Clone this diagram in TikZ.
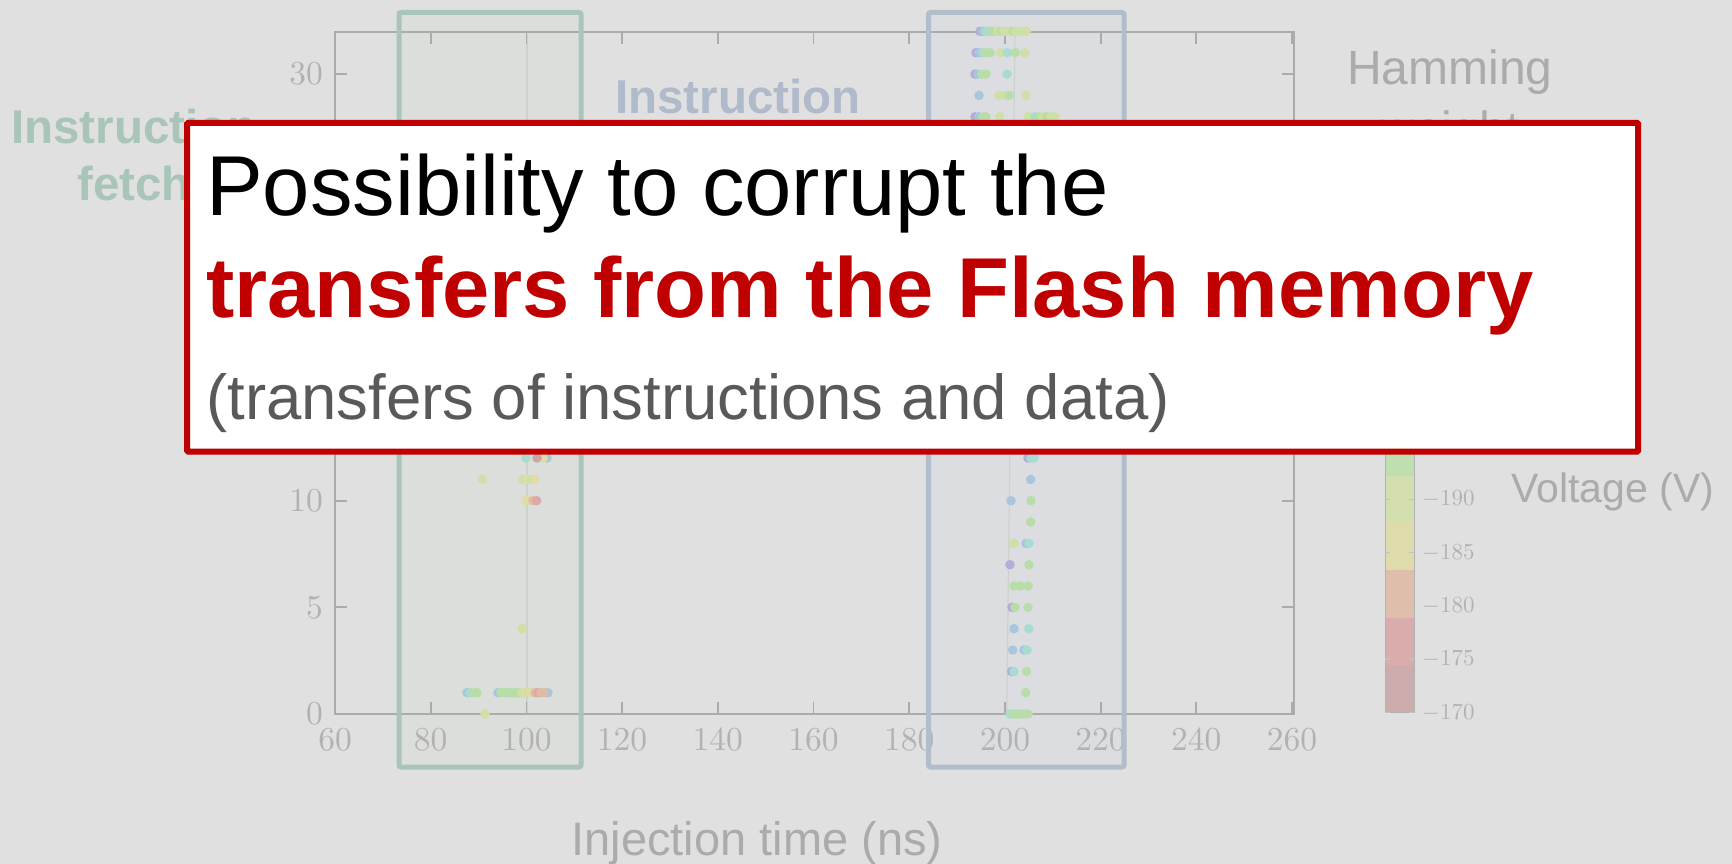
\documentclass[tikz,border=0pt]{standalone}
\usepackage{fix-cm}
\usepackage{fontspec}
\newfontfamily\arial{Liberation Sans}
\newfontfamily\tickfont{lmroman10-regular}[Extension=.otf]

\definecolor{bg}{HTML}{E0E0E0}
\definecolor{axisgray}{HTML}{ABABAB}
\definecolor{ticktext}{HTML}{B2B2B2}
\definecolor{labgray}{HTML}{ABABAB}
\definecolor{fetchline}{HTML}{A9C5B9}
\definecolor{fetchfill}{HTML}{DCDEDB}
\definecolor{fetchtxt}{HTML}{A8C5B8}
\definecolor{decline}{HTML}{B2BCCB}
\definecolor{decfill}{HTML}{DCDDE0}
\definecolor{dectxt}{HTML}{AFBACB}
\definecolor{gridgray}{HTML}{CFD1CF}
\definecolor{alertred}{HTML}{C00000}
\definecolor{subgray}{HTML}{595959}
% faded scatter colours
\definecolor{dPur}{HTML}{B2AED6}
\definecolor{dBlu}{HTML}{A9C6DC}
\definecolor{dCya}{HTML}{A8DCD2}
\definecolor{dGrn}{HTML}{B9DDAA}
\definecolor{dYg}{HTML}{CFE0A6}
\definecolor{dYel}{HTML}{E0DCA6}
\definecolor{dOra}{HTML}{E0BBA6}
\definecolor{dRed}{HTML}{DCA8A8}
\definecolor{dBrn}{HTML}{C9A6A6}
% colour bar bands
\definecolor{cbA}{HTML}{BFDFB0}
\definecolor{cbB}{HTML}{D3DFAE}
\definecolor{cbC}{HTML}{DFDCAC}
\definecolor{cbD}{HTML}{DFBFAC}
\definecolor{cbE}{HTML}{DBACAC}
\definecolor{cbF}{HTML}{CCACAC}

\begin{document}
\begin{tikzpicture}[x=1pt,y=-1pt,
  axisline/.style={draw=axisgray,line width=1.8pt},
  ticklab/.style={inner sep=0pt,text=ticktext,font=\tickfont\fontsize{33.5}{40}\selectfont},
  cblab/.style={inner sep=0pt,text=ticktext,font=\tickfont\fontsize{23}{28}\selectfont},
  cbtick/.style={draw=ticktext!80,line width=1.2pt},
  fetchbox/.style={draw=fetchline,line width=5pt,rounded corners=2pt},
  decbox/.style={draw=decline,line width=5pt,rounded corners=2pt},
  faintline/.style={draw=gridgray,line width=1.2pt},
  graylab/.style={inner sep=0pt,text=labgray},
  alertbox/.style={draw=alertred,fill=white,line width=6pt,rounded corners=1pt},
  mainline/.style={inner sep=0pt,anchor=base west},
]
\useasboundingbox (0,0) rectangle (1732,864);
\fill[bg] (0,0) rectangle (1732,864);

% shaded time windows
\fill[fetchfill] (399,12.5) rectangle (581,767);
\fill[decfill] (928.5,12.5) rectangle (1124,767);

% faint guide lines
\draw[faintline] (527,32) -- (527,714);
\draw[faintline] (1015,32) -- (1006.7,714);

% axes frame and ticks
\draw[axisline] (335,31.7) rectangle (1294,714);
\foreach \t in {60,80,...,260} {
  \pgfmathsetmacro\px{335+(\t-60)*4.785}
  \draw[axisline] (\px,714) -- ++(0,-12);
  \draw[axisline] (\px,31.7) -- ++(0,12);
  \node[ticklab,anchor=base] (xl\t) at (\px,750) {\t};
}
\foreach \v in {0,5,...,30} {
  \pgfmathsetmacro\py{714-21.33*\v}
  \draw[axisline] (335,\py) -- ++(12,0);
  \draw[axisline] (1294,\py) -- ++(-12,0);
  \node[ticklab,anchor=east] (yl\v) at (323,\py) {\v};
}

% scatter points: fetch window
\foreach \x/\y/\c in {
  526/458/dCya, 547/458/dBlu, 543/458/dYel, 537/458/dBrn,
  482.3/479.4/dYg, 523/479.4/dYg, 527/479.4/dYel, 531/479.4/dYg, 535/479.4/dYel,
  526/500.7/dYel, 530/500.7/dYel, 533/500.7/dOra, 536.7/500.7/dRed,
  522.3/628.7/dYg,
  467/692.7/dBlu, 470/692.7/dCya, 474/692.7/dGrn, 477/692.7/dGrn,
  548/692.7/dBlu, 498/692.7/dBlu, 501/692.7/dGrn, 504/692.7/dGrn, 507/692.7/dGrn,
  510/692.7/dGrn, 513/692.7/dGrn, 516/692.7/dGrn, 519/692.7/dGrn, 522/692.7/dYg,
  525/692.7/dYel, 528/692.7/dYg, 531/692.7/dYel, 535/692.7/dOra, 538/692.7/dRed,
  541/692.7/dOra, 544/692.7/dOra,
  485/714/dYg}
  \fill[\c] (\x,\y) circle[radius=4.8];

% scatter points: second window
\foreach \x/\y/\c in {
  980/31.4/dPur, 983/31.4/dBlu, 986/31.4/dCya, 989/31.4/dCya, 992/31.4/dGrn,
  995/31.4/dGrn, 998/31.4/dYg, 1001/31.4/dGrn, 1004/31.4/dYg, 1007/31.4/dYg,
  1010/31.4/dYg, 1013/31.4/dGrn, 1016/31.4/dYg, 1019/31.4/dYg, 1022/31.4/dYg, 1026/31.4/dYg,
  976/52.7/dPur, 979/52.7/dBlu, 983/52.7/dCya, 986/52.7/dGrn, 990/52.7/dGrn,
  1000.7/52.7/dYg, 1007.3/52.7/dCya, 1015.3/52.7/dGrn, 1024.7/52.7/dYg,
  975/74.1/dPur, 978/74.1/dBlu, 982/74.1/dGrn, 986/74.1/dGrn, 1007/74.1/dCya,
  979/95.4/dBlu, 999/95.4/dYg, 1005/95.4/dYg, 1009/95.4/dGrn, 1026/95.4/dYg,
  975/116.8/dPur, 979/116.8/dBlu, 983/116.8/dGrn, 986/116.8/dGrn, 999.7/116.8/dYg,
  1028/116.8/dYg, 1035/116.8/dCya, 1039/116.8/dGrn, 1043/116.8/dYg, 1047/116.8/dGrn,
  1051/116.8/dYg, 1055/116.8/dYg,
  1028/458/dPur, 1031/458/dCya, 1034/458/dCya,
  1030.7/479.4/dBlu,
  1011/500.7/dBlu, 1031/500.7/dGrn,
  1030.7/522/dGrn,
  1014/543.4/dYg, 1026/543.4/dBlu, 1029/543.4/dCya,
  1010/564.7/dPur, 1029/564.7/dGrn,
  1014/586/dGrn, 1020.7/586/dGrn, 1028.3/586/dGrn,
  1012/607.4/dPur, 1015/607.4/dGrn, 1028/607.4/dGrn,
  1014/628.7/dBlu, 1028.7/628.7/dCya,
  1012.7/650/dBlu, 1024/650/dBlu, 1027/650/dCya,
  1011.7/671.4/dPur, 1014/671.4/dCya, 1026.7/671.4/dGrn,
  1025.7/692.7/dGrn,
  1010/714/dCya, 1013/714/dGrn, 1016/714/dGrn, 1019/714/dGrn, 1022/714/dGrn,
  1025/714/dGrn, 1028/714/dGrn}
  \fill[\c] (\x,\y) circle[radius=4.8];

% colour bar
\fill[cbA] (1385,300) rectangle (1414,476);
\fill[cbB] (1385,476) rectangle (1414,523);
\fill[cbC] (1385,523) rectangle (1414,570);
\fill[cbD] (1385,570) rectangle (1414,618);
\fill[cbE] (1385,618) rectangle (1414,665);
\fill[cbF] (1385,665) rectangle (1414,712);
\draw[draw=ticktext,line width=1pt] (1385,300) rectangle (1414,712);
\foreach \k/\lab in {0/170,1/175,2/180,3/185,4/190} {
  \pgfmathsetmacro\cy{712.3-53.3*\k}
  \draw[cbtick] (1385,\cy) -- ++(5,0);
  \draw[cbtick] (1414,\cy) -- ++(-5,0);
  \node[cblab,anchor=west] (cb\lab) at (1422,\cy) {$-$\lab};
}

% window outlines
\draw[fetchbox] (399,12.5) rectangle (581,767);
\draw[decbox] (928.5,12.5) rectangle (1124,767);

% axis and window labels
\node[inner sep=0pt,anchor=base,text=fetchtxt,font={\arial\bfseries\fontsize{47.5}{56}\selectfont}] (fetchA) at (134,144) {Instruction};
\node[inner sep=0pt,anchor=base,text=fetchtxt,font={\arial\bfseries\fontsize{47.5}{56}\selectfont}] (fetchB) at (134,200) {fetch};
\node[inner sep=0pt,anchor=base,text=dectxt,font={\arial\bfseries\fontsize{47.5}{56}\selectfont}] (decA) at (738,114) {Instruction};
\node[graylab,anchor=base,font={\arial\fontsize{48}{56}\selectfont}] (hamA) at (1450,85) {Hamming};
\node[graylab,anchor=base,font={\arial\fontsize{48}{56}\selectfont}] (hamB) at (1450,146) {weight};
\node[graylab,anchor=base west,font={\arial\fontsize{41}{48}\selectfont}] (volt) at (1511,502) {Voltage (V)};
\node[graylab,anchor=base,font={\arial\fontsize{47}{56}\selectfont}] (xlab) at (757,855) {Injection time (ns)};

% call-out box
\draw[alertbox] (187,123) rectangle (1638,451.5);
\node[mainline,font={\arial\fontsize{85}{100}\selectfont}] (l1) at (206,215) {Possibility to corrupt the};
\node[mainline,text=alertred,font={\arial\bfseries\fontsize{85}{100}\selectfont}] (l2) at (206,317) {transfers from the Flash memory};
\node[mainline,text=subgray,font={\arial\fontsize{63.5}{75}\selectfont}] (l3) at (206,419) {(transfers of instructions and data)};
\end{tikzpicture}
\end{document}
